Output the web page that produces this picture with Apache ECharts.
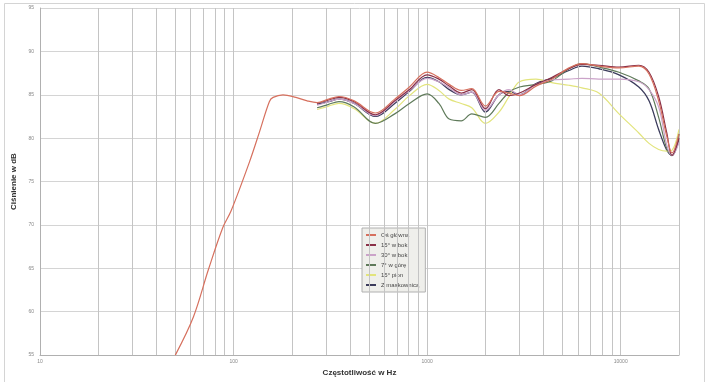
<!DOCTYPE html>
<html>
<head>
<meta charset="utf-8">
<script src="https://cdn.jsdelivr.net/npm/echarts@6/dist/echarts.min.js"></script>
<style>html,body{margin:0;padding:0;background:#fff}#c{width:705px;height:382px}</style>
</head>
<body>
<div id="c"></div>
<script>
// ---- data ----
const seriesNames = ['Oś główna', '15° w bok', '30° w bok', '7° w górę', '15° pion', 'Z maskownicą'];
const freqLow = [50, 62, 74, 88, 97, 121, 136, 153, 160, 180, 210, 240];
const mainLow = [55, 59.4, 64.8, 69.7, 71.6, 77.3, 80.7, 84.2, 84.7, 85.0, 84.7, 84.3];
const freqHigh = [270, 310, 350, 420, 540, 680, 810, 1000, 1150, 1300, 1500, 1700, 2000, 2350, 2650, 3000, 3650, 4400, 5400, 6300, 7700, 9800, 12400, 14000, 15700, 17300, 18400, 20000];
const osGlowna   = [84.1, 84.5, 84.8, 84.3, 82.9, 84.5, 85.9, 87.6, 87.0, 86.2, 85.5, 85.7, 83.7, 85.4, 85.2, 84.9, 86.0, 86.8, 88.1, 88.6, 88.3, 88.1, 88.3, 87.4, 84.3, 80.2, 78.3, 80.5];
const bok15      = [84.0, 84.4, 84.7, 84.2, 82.7, 84.3, 85.6, 87.3, 86.8, 86.0, 85.2, 85.6, 83.4, 85.6, 84.9, 85.2, 86.2, 87.0, 88.0, 88.5, 88.4, 88.2, 88.4, 87.6, 84.8, 80.6, 78.0, 80.0];
const bok30      = [83.8, 84.2, 84.5, 84.0, 82.6, 84.2, 85.5, 86.9, 86.5, 85.8, 85.0, 85.3, 83.2, 85.0, 85.6, 85.0, 86.2, 86.7, 86.8, 86.9, 86.8, 86.8, 86.5, 85.6, 83.6, 79.2, 78.0, 79.5];
const gora7      = [83.5, 83.9, 84.2, 83.6, 81.7, 82.8, 84.0, 85.1, 84.0, 82.2, 82.0, 82.8, 82.4, 84.0, 85.3, 85.9, 86.2, 86.6, 88.0, 88.6, 88.2, 87.6, 86.6, 85.7, 82.4, 78.8, 78.0, 80.5];
const pion15     = [83.3, 83.7, 84.0, 83.4, 81.7, 83.3, 84.9, 86.2, 85.5, 84.5, 84.0, 83.5, 81.7, 83.0, 84.8, 86.5, 86.8, 86.4, 86.1, 85.8, 85.2, 82.8, 80.6, 79.4, 78.7, 78.5, 78.6, 81.0];
const maskownica = [83.9, 84.2, 84.5, 84.0, 82.5, 84.0, 85.4, 87.0, 86.5, 85.6, 85.0, 85.3, 83.0, 85.0, 85.4, 85.0, 86.3, 86.9, 87.8, 88.3, 88.0, 87.3, 85.9, 84.3, 81.0, 78.6, 78.0, 80.0];
const gridFreqs = [20, 30, 40, 50, 60, 70, 80, 90, 200, 300, 400, 500, 600, 700, 800, 900, 2000, 3000, 4000, 5000, 6000, 7000, 8000, 9000, 20000];
const xTickLabels = ['10', '100', '1000', '10000'];
const colors = ['#d6705e', '#8a3048', '#cba3c9', '#5f7a5a', '#e2e47c', '#3c3c5c'];

// ---- chart ----
function zip(xs, ys) { return xs.map((x, i) => [x, ys[i]]); }
const values = [osGlowna, bok15, bok30, gora7, pion15, maskownica];
const series = values.map((v, i) => ({
  name: seriesNames[i],
  type: 'line',
  showSymbol: false,
  smooth: 0.35,
  z: 3 + (5 - i),
  lineStyle: { width: i === 5 ? 1.3 : 1.2, color: colors[i] },
  itemStyle: { color: colors[i] },
  data: i === 0 ? zip(freqLow, mainLow).concat(zip(freqHigh, v)) : zip(freqHigh, v)
}));
series.push({
  type: 'line',
  data: [],
  silent: true,
  z: 1,
  markLine: {
    silent: true,
    symbol: 'none',
    label: { show: false },
    lineStyle: { color: '#c4c4c4', width: 1, type: 'solid' },
    data: gridFreqs.map(f => ({ xAxis: f }))
  }
});

const chart = echarts.init(document.getElementById('c'), null, { renderer: 'canvas' });
chart.setOption({
  animation: false,
  backgroundColor: '#ffffff',
  color: colors,
  graphic: [{
    type: 'rect', left: 2, top: 1, shape: { width: 700, height: 379 },
    style: { fill: 'none', stroke: '#d4d4d4', lineWidth: 1 }, silent: true
  }],
  grid: { left: 40, right: 26, top: 8, bottom: 23, containLabel: false },
  legend: {
    data: seriesNames,
    orient: 'vertical',
    left: 362, top: 228,
    backgroundColor: '#efefeb',
    borderColor: '#b0b0b0',
    borderWidth: 1,
    padding: [3, 6, 3, 4],
    itemGap: 2,
    itemWidth: 10,
    itemHeight: 2,
    icon: 'rect',
    textStyle: { fontSize: 6, color: '#444', fontFamily: 'Liberation Sans, Arial, sans-serif', lineHeight: 8 }
  },
  xAxis: {
    type: 'log',
    logBase: 10,
    min: 10,
    max: 20000,
    name: 'Częstotliwość w Hz',
    nameLocation: 'middle',
    nameGap: 9,
    nameTextStyle: { fontSize: 8, fontWeight: 'bold', color: '#333', fontFamily: 'Liberation Sans, Arial, sans-serif' },
    axisLine: { show: true, lineStyle: { color: '#b0b0b0' } },
    axisTick: { show: false },
    axisLabel: {
      fontSize: 5, color: '#888', margin: 4, showMaxLabel: false,
      formatter: v => { const s = String(Math.round(v)); return xTickLabels.indexOf(s) >= 0 ? s : ''; }
    },
    splitLine: { show: true, lineStyle: { color: '#c4c4c4', width: 1 } }
  },
  yAxis: {
    type: 'value',
    min: 55,
    max: 95,
    interval: 5,
    name: 'Ciśnienie w dB',
    nameLocation: 'middle',
    nameGap: 14,
    nameTextStyle: { fontSize: 8, fontWeight: 'bold', color: '#333', fontFamily: 'Liberation Sans, Arial, sans-serif' },
    axisLine: { show: true, lineStyle: { color: '#b0b0b0' } },
    axisTick: { show: false },
    axisLabel: { fontSize: 5, color: '#888', margin: 6 },
    splitLine: { show: true, lineStyle: { color: '#d4d4d4', width: 1 } }
  },
  series: series
});
</script>
</body>
</html>
